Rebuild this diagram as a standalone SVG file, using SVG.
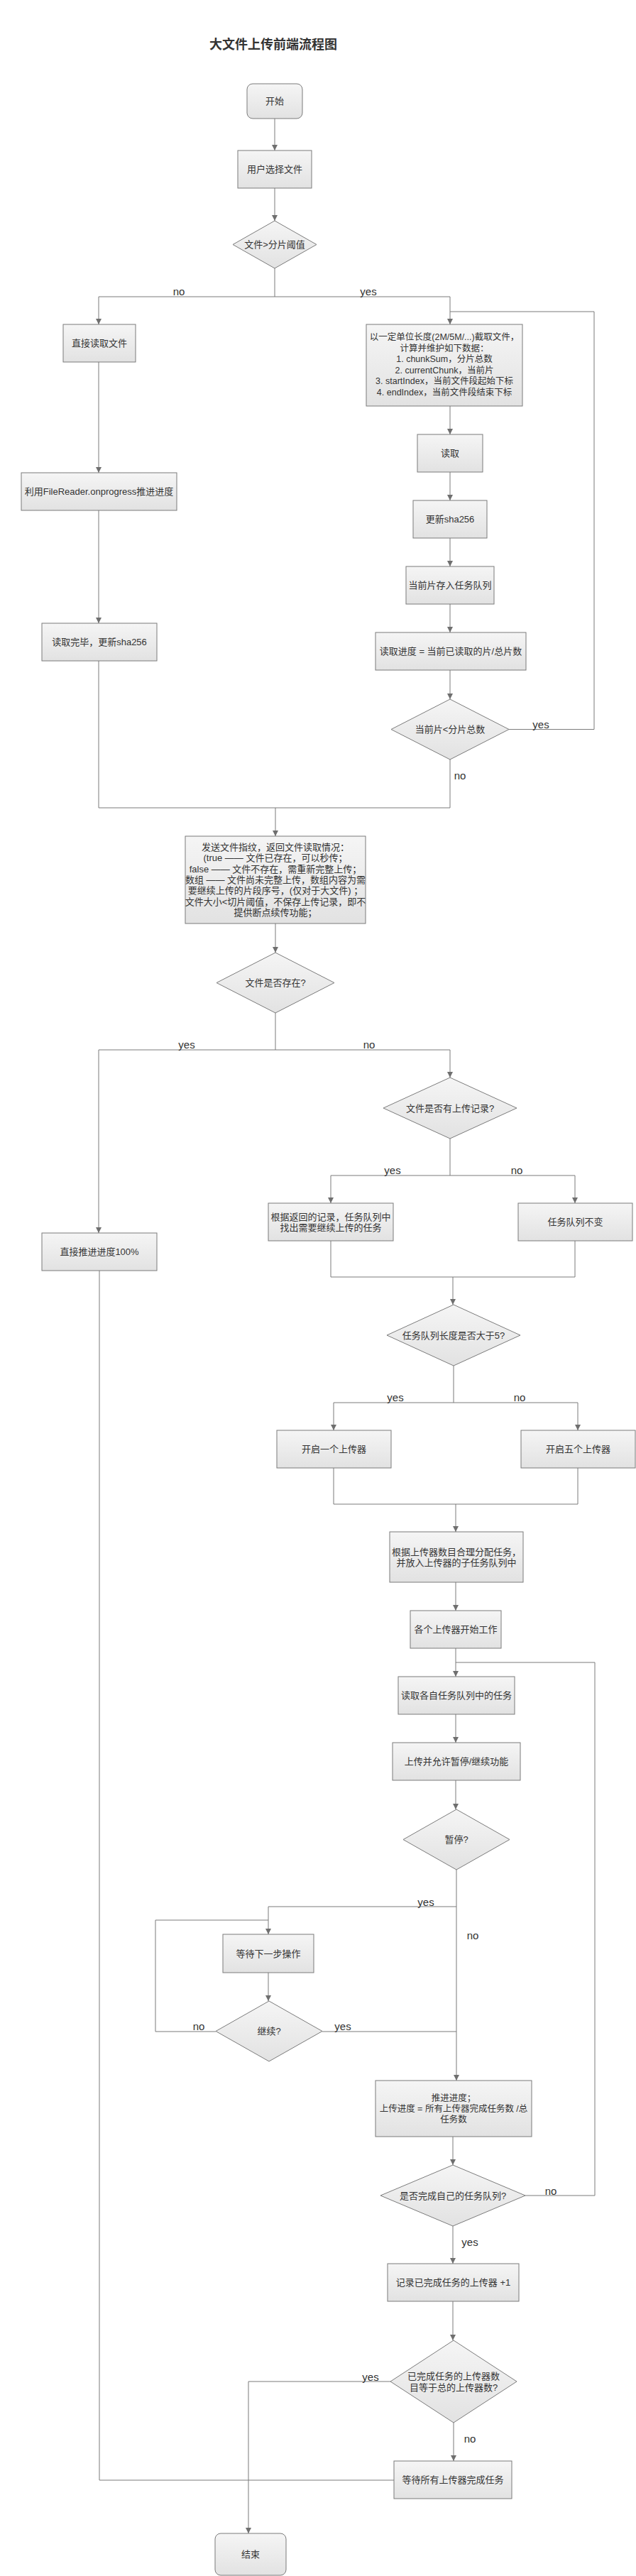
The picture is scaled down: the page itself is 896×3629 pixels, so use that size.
<svg xmlns="http://www.w3.org/2000/svg" width="896" height="3629" viewBox="0 0 896 3629">
<defs>
<linearGradient id="g" x1="0" y1="0" x2="0" y2="1">
<stop offset="0" stop-color="#f5f5f5"/>
<stop offset="1" stop-color="#e2e2e2"/>
</linearGradient>
<marker id="a" markerUnits="userSpaceOnUse" markerWidth="10" markerHeight="10" refX="8" refY="4" orient="auto">
<path d="M0,0 L8,4 L0,8 z" fill="#6f6f6f"/>
</marker>
<style>
.n{fill:url(#g);stroke:#7b7b7b;stroke-width:1}
.t{font-family:"Liberation Sans","Noto Sans CJK SC",sans-serif;font-size:13px;fill:#333;text-anchor:middle;dominant-baseline:central}
.s{font-size:12.5px}
.l{font-family:"Liberation Sans",Arial,sans-serif;font-size:15px;fill:#333;text-anchor:middle;dominant-baseline:central}
.c{fill:none;stroke:#7b7b7b;stroke-width:1}
.ar{marker-end:url(#a)}
.ti{font-family:"Liberation Sans","Noto Sans CJK SC",sans-serif;font-size:18px;font-weight:bold;fill:#333;text-anchor:middle}
</style>
</defs>
<rect width="896" height="3629" fill="#fff"/>
<text class="ti" x="385" y="69">大文件上传前端流程图</text>

<g id="connectors">
<path class="c ar" d="M387,167 V212"/>
<path class="c ar" d="M387,265 V311"/>
<path class="c" d="M387,378 V418 M139,418 H634"/>
<path class="c ar" d="M139,418 V457"/>
<path class="c ar" d="M634,418 V457"/>
<path class="c ar" d="M139,510 V666"/>
<path class="c ar" d="M139,719 V878"/>
<path class="c ar" d="M634,572 V612"/>
<path class="c ar" d="M634,665 V705"/>
<path class="c ar" d="M634,758 V798"/>
<path class="c ar" d="M634,851 V891"/>
<path class="c ar" d="M634,944 V985"/>
<path class="c" d="M717,1027.5 H837 V439 H634"/>
<path class="c" d="M634,1070 V1138 H139 V931"/>
<path class="c ar" d="M388,1138 V1178"/>
<path class="c ar" d="M388,1301 V1342"/>
<path class="c" d="M388,1427 V1479 M139,1479 H634"/>
<path class="c ar" d="M139,1479 V1737"/>
<path class="c ar" d="M634,1479 V1518"/>
<path class="c" d="M634,1604 V1656 M466,1656 H810"/>
<path class="c ar" d="M466,1656 V1695"/>
<path class="c ar" d="M810,1656 V1695"/>
<path class="c" d="M466,1748 V1799 H810 V1748"/>
<path class="c ar" d="M638,1799 V1838"/>
<path class="c" d="M639,1924 V1976 M470,1976 H814"/>
<path class="c ar" d="M470,1976 V2015"/>
<path class="c ar" d="M814,1976 V2015"/>
<path class="c" d="M470,2068 V2119 H814 V2068"/>
<path class="c ar" d="M642,2119 V2158"/>
<path class="c ar" d="M642,2229 V2269"/>
<path class="c ar" d="M642,2322 V2362"/>
<path class="c ar" d="M642,2415 V2455"/>
<path class="c ar" d="M642,2508 V2549"/>
<path class="c ar" d="M643,2634 V2931"/>
<path class="c ar" d="M643,2686 H378 V2725"/>
<path class="c ar" d="M378,2779 V2819"/>
<path class="c" d="M454,2862 H643"/>
<path class="c" d="M304,2862 H219 V2705 H378"/>
<path class="c ar" d="M638,3010 V3050"/>
<path class="c" d="M740,3093 H838 V2342 H642"/>
<path class="c ar" d="M638,3136 V3189"/>
<path class="c ar" d="M638,3242 V3297"/>
<path class="c ar" d="M550,3355 H350 V3569"/>
<path class="c ar" d="M639,3413 V3467"/>
<path class="c" d="M140,1790 V3494 H555"/>
<text class="l" x="252" y="410">no</text>
<text class="l" x="519" y="410">yes</text>
<text class="l" x="762" y="1020">yes</text>
<text class="l" x="648" y="1092">no</text>
<text class="l" x="263" y="1471">yes</text>
<text class="l" x="520" y="1471">no</text>
<text class="l" x="553" y="1648">yes</text>
<text class="l" x="728" y="1648">no</text>
<text class="l" x="557" y="1968">yes</text>
<text class="l" x="732" y="1968">no</text>
<text class="l" x="600" y="2679">yes</text>
<text class="l" x="666" y="2726">no</text>
<text class="l" x="280" y="2854">no</text>
<text class="l" x="483" y="2854">yes</text>
<text class="l" x="776" y="3086">no</text>
<text class="l" x="662" y="3158">yes</text>
<text class="l" x="522" y="3348">yes</text>
<text class="l" x="662" y="3435">no</text>
</g>

<g id="start"><rect class="n" x="348" y="118" width="78" height="49" rx="8"/><text class="t" x="387" y="142.5">开始</text></g>
<g id="select"><rect class="n" x="335" y="212" width="104" height="53"/><text class="t" x="387" y="238.5">用户选择文件</text></g>
<g id="d-threshold"><polygon class="n" points="387,311 446,344.5 387,378 328,344.5"/><text class="t" x="387" y="344.5">文件&gt;分片阈值</text></g>
<g id="read-direct"><rect class="n" x="89" y="457" width="102" height="53"/><text class="t" x="140" y="483.5">直接读取文件</text></g>
<g id="onprogress"><rect class="n" x="30" y="666" width="219" height="53"/><text class="t" x="139.5" y="692.5">利用FileReader.onprogress推进进度</text></g>
<g id="read-done"><rect class="n" x="59" y="878" width="162" height="53"/><text class="t" x="140" y="904.5">读取完毕，更新sha256</text></g>
<g id="slice"><rect class="n" x="516" y="457" width="220" height="115"/>
<text class="t s" x="626" y="475">以一定单位长度(2M/5M/...)截取文件，</text>
<text class="t s" x="626" y="490.5">计算并维护如下数据：</text>
<text class="t s" x="626" y="506">1. chunkSum，分片总数</text>
<text class="t s" x="626" y="521.5">2. currentChunk，当前片</text>
<text class="t s" x="626" y="537">3. startIndex，当前文件段起始下标</text>
<text class="t s" x="626" y="552.5">4. endIndex，当前文件段结束下标</text></g>
<g id="read"><rect class="n" x="588" y="612" width="92" height="53"/><text class="t" x="634" y="638.5">读取</text></g>
<g id="sha"><rect class="n" x="582" y="705" width="104" height="53"/><text class="t" x="634" y="731.5">更新sha256</text></g>
<g id="enqueue"><rect class="n" x="572" y="798" width="124" height="53"/><text class="t" x="634" y="824.5">当前片存入任务队列</text></g>
<g id="read-progress"><rect class="n" x="529" y="891" width="212" height="53"/><text class="t" x="635" y="917.5">读取进度 = 当前已读取的片/总片数</text></g>
<g id="d-chunk"><polygon class="n" points="634,985 717,1027.5 634,1070 551,1027.5"/><text class="t" x="634" y="1027.5">当前片&lt;分片总数</text></g>
<g id="fingerprint"><rect class="n" x="261" y="1178" width="254" height="123"/>
<text class="t" x="388" y="1193.5">发送文件指纹，返回文件读取情况：</text>
<text class="t" x="388" y="1208.8">(true —— 文件已存在，可以秒传；</text>
<text class="t" x="388" y="1224.1">false —— 文件不存在，需重新完整上传；</text>
<text class="t" x="388" y="1239.4">数组 —— 文件尚未完整上传，数组内容为需</text>
<text class="t" x="388" y="1254.7">要继续上传的片段序号，(仅对于大文件) ；</text>
<text class="t" x="388" y="1270">文件大小&lt;切片阈值，不保存上传记录，即不</text>
<text class="t" x="388" y="1285.3">提供断点续传功能；</text></g>
<g id="d-exists"><polygon class="n" points="388,1342 471,1384.5 388,1427 305,1384.5"/><text class="t" x="388" y="1384.5">文件是否存在?</text></g>
<g id="d-record"><polygon class="n" points="634,1518 728,1561 634,1604 540,1561"/><text class="t" x="634" y="1561">文件是否有上传记录?</text></g>
<g id="pick-tasks"><rect class="n" x="378" y="1695" width="176" height="53"/>
<text class="t" x="466" y="1714">根据返回的记录，任务队列中</text>
<text class="t" x="466" y="1729.5">找出需要继续上传的任务</text></g>
<g id="queue-same"><rect class="n" x="730" y="1695" width="161" height="53"/><text class="t" x="810.5" y="1721.5">任务队列不变</text></g>
<g id="progress-100"><rect class="n" x="59" y="1737" width="162" height="53"/><text class="t" x="140" y="1763.5">直接推进进度100%</text></g>
<g id="d-len"><polygon class="n" points="639,1838 733,1881 639,1924 545,1881"/><text class="t" x="639" y="1881">任务队列长度是否大于5?</text></g>
<g id="one-uploader"><rect class="n" x="390" y="2015" width="161" height="53"/><text class="t" x="470.5" y="2041.5">开启一个上传器</text></g>
<g id="five-uploaders"><rect class="n" x="734" y="2015" width="161" height="53"/><text class="t" x="814.5" y="2041.5">开启五个上传器</text></g>
<g id="assign"><rect class="n" x="549" y="2158" width="188" height="71"/>
<text class="t" x="643" y="2186">根据上传器数目合理分配任务，</text>
<text class="t" x="643" y="2201.5">并放入上传器的子任务队列中</text></g>
<g id="start-work"><rect class="n" x="578" y="2269" width="128" height="53"/><text class="t" x="642" y="2295.5">各个上传器开始工作</text></g>
<g id="read-task"><rect class="n" x="561" y="2362" width="164" height="53"/><text class="t" x="643" y="2388.5">读取各自任务队列中的任务</text></g>
<g id="upload"><rect class="n" x="553" y="2455" width="180" height="53"/><text class="t" x="643" y="2481.5">上传并允许暂停/继续功能</text></g>
<g id="d-pause"><polygon class="n" points="643,2549 718,2591.5 643,2634 568,2591.5"/><text class="t" x="643" y="2591.5">暂停?</text></g>
<g id="wait-next"><rect class="n" x="314" y="2725" width="128" height="54"/><text class="t" x="378" y="2752">等待下一步操作</text></g>
<g id="d-continue"><polygon class="n" points="379,2819 454,2861.5 379,2904 304,2861.5"/><text class="t" x="379" y="2861.5">继续?</text></g>
<g id="push-progress"><rect class="n" x="529" y="2931" width="220" height="79"/>
<text class="t s" x="639" y="2955.5">推进进度；</text>
<text class="t s" x="639" y="2970.5">上传进度 = 所有上传器完成任务数 /总</text>
<text class="t s" x="639" y="2985.5">任务数</text></g>
<g id="d-own-done"><polygon class="n" points="638,3050 740,3093 638,3136 536,3093"/><text class="t" x="638" y="3093">是否完成自己的任务队列?</text></g>
<g id="count"><rect class="n" x="546" y="3189" width="185" height="53"/><text class="t" x="638.5" y="3215.5">记录已完成任务的上传器 +1</text></g>
<g id="d-all-done"><polygon class="n" points="639,3297 728,3355 639,3413 550,3355"/>
<text class="t" x="639" y="3347.5">已完成任务的上传器数</text>
<text class="t" x="639" y="3363">目等于总的上传器数?</text></g>
<g id="wait-all"><rect class="n" x="555" y="3467" width="166" height="53"/><text class="t" x="638" y="3493.5">等待所有上传器完成任务</text></g>
<g id="end"><rect class="n" x="303" y="3569" width="100" height="59" rx="8"/><text class="t" x="353" y="3598.5">结束</text></g>
</svg>
